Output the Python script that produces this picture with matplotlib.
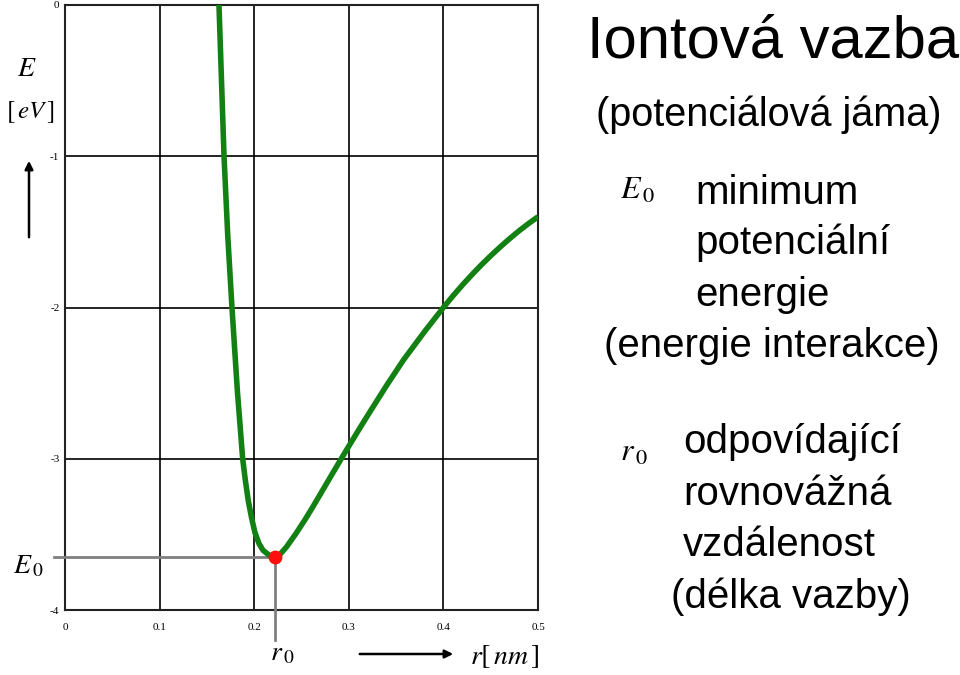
import matplotlib
matplotlib.use("Agg")
import matplotlib.pyplot as plt

# ---- data ----
r_nm = [0.1625, 0.1681, 0.1720, 0.1765, 0.1822, 0.1878, 0.1908, 0.1938, 0.1972,
        0.2008, 0.2050, 0.2093, 0.2155, 0.2220, 0.2250, 0.2280, 0.2340, 0.2440,
        0.2540, 0.2620, 0.2700, 0.2810, 0.2920, 0.3000, 0.3110, 0.3220, 0.3400,
        0.3580, 0.3800, 0.4000, 0.4100, 0.4200, 0.4300, 0.4400, 0.4500, 0.4600,
        0.4700, 0.4800, 0.4900, 0.5000]
E_eV = [0.05, -1.0, -1.52, -2.0, -2.55, -3.0, -3.15, -3.28, -3.39,
        -3.488, -3.56, -3.605, -3.636, -3.650, -3.643, -3.627, -3.584, -3.496,
        -3.400, -3.318, -3.233, -3.116, -3.000, -2.917, -2.804, -2.693, -2.515,
        -2.345, -2.160, -2.000, -1.924, -1.852, -1.784, -1.719, -1.658, -1.600,
        -1.545, -1.493, -1.445, -1.400]
r0 = 0.222
E0 = -3.65
x_ticks = [0, 0.1, 0.2, 0.3, 0.4, 0.5]
x_labels = ["0", "0.1", "0.2", "0.3", "0.4", "0.5"]
y_ticks = [0, -1, -2, -3, -4]
y_labels = ["0", "-1", "-2", "-3", "-4"]

plt.rcParams['mathtext.fontset'] = 'stix'
sans = ['Liberation Sans', 'DejaVu Sans']
serif = ['Liberation Serif', 'DejaVu Serif']

fig = plt.figure(figsize=(9.6, 6.75), dpi=100)
ax = fig.add_axes([65/960, 1-610/675, 473/960, 605/675])
ax.set_xlim(0, 0.5)
ax.set_ylim(-4, 0)
ax.set_xticks(x_ticks)
ax.set_xticklabels(x_labels, family=serif, fontsize=8)
ax.set_yticks(y_ticks)
ax.set_yticklabels(y_labels, family=serif, fontsize=8)
ax.tick_params(axis='x', length=0, pad=9)
ax.tick_params(axis='y', length=0, pad=4)
ax.grid(True, color='black', linewidth=1.2)
ax.set_axisbelow(True)
for s in ax.spines.values():
    s.set_linewidth(1.5)
    s.set_color('#222222')

# guide lines to minimum
ax.plot([-0.012, r0], [E0, E0], color='#808080', lw=2, clip_on=False, zorder=3)
ax.plot([r0, r0], [E0, -4.2], color='#808080', lw=2, clip_on=False, zorder=3)

ax.plot(r_nm, E_eV, color='#138013', lw=4, solid_capstyle='butt',
        solid_joinstyle='round', zorder=4)
ax.plot([r0], [E0], 'o', color='#ff1010', ms=9, zorder=5)

# axis labels
fig.text(27/960, 1-68/675, r'$E$', fontsize=20, ha='center', va='center')
fig.text(30/960, 1-112/675, r'$\left[\,eV\,\right]$', fontsize=18, ha='center', va='center')
fig.add_artist(matplotlib.patches.FancyArrowPatch((29/960, 1-240/675), (29/960, 1-158/675),
               transform=fig.transFigure, arrowstyle='-|>', mutation_scale=12, lw=1.8, color='black'))
fig.text(28/960, 1-565/675, r'$E_{\,0}$', fontsize=20, ha='center', va='center')
fig.text(282/960, 1-652/675, r'$r_{\,0}$', fontsize=20, ha='center', va='center')
fig.add_artist(matplotlib.patches.FancyArrowPatch((357/960, 1-654/675), (456/960, 1-654/675),
               transform=fig.transFigure, arrowstyle='-|>', mutation_scale=12, lw=1.8, color='black'))
fig.text(505/960, 1-656/675, r'$r\left[\,nm\,\right]$', fontsize=20, ha='center', va='center')

# right-hand texts
fig.text(773/960, 1-42/675, 'Iontová vazba', family=sans, fontsize=43, ha='center', va='center')
fig.text(769/960, 1-115/675, '(potenciálová jáma)', family=sans, fontsize=28.5, ha='center', va='center')
fig.text(637/960, 1-190/675, r'$E_{\,0}$', fontsize=23, ha='center', va='center')
fig.text(695/960, 1-193/675, 'minimum', family=sans, fontsize=29, ha='left', va='center')
fig.text(695/960, 1-243/675, 'potenciální', family=sans, fontsize=29, ha='left', va='center')
fig.text(695/960, 1-295/675, 'energie', family=sans, fontsize=29, ha='left', va='center')
fig.text(772/960, 1-346/675, '(energie interakce)', family=sans, fontsize=29, ha='center', va='center')
fig.text(634/960, 1-452/675, r'$r_{\,0}$', fontsize=23, ha='center', va='center')
fig.text(683/960, 1-442/675, 'odpovídající', family=sans, fontsize=29, ha='left', va='center')
fig.text(683/960, 1-494/675, 'rovnovážná', family=sans, fontsize=29, ha='left', va='center')
fig.text(683/960, 1-545/675, 'vzdálenost', family=sans, fontsize=29, ha='left', va='center')
fig.text(791/960, 1-597/675, '(délka vazby)', family=sans, fontsize=29, ha='center', va='center')

fig.savefig('out.png', dpi=100)
